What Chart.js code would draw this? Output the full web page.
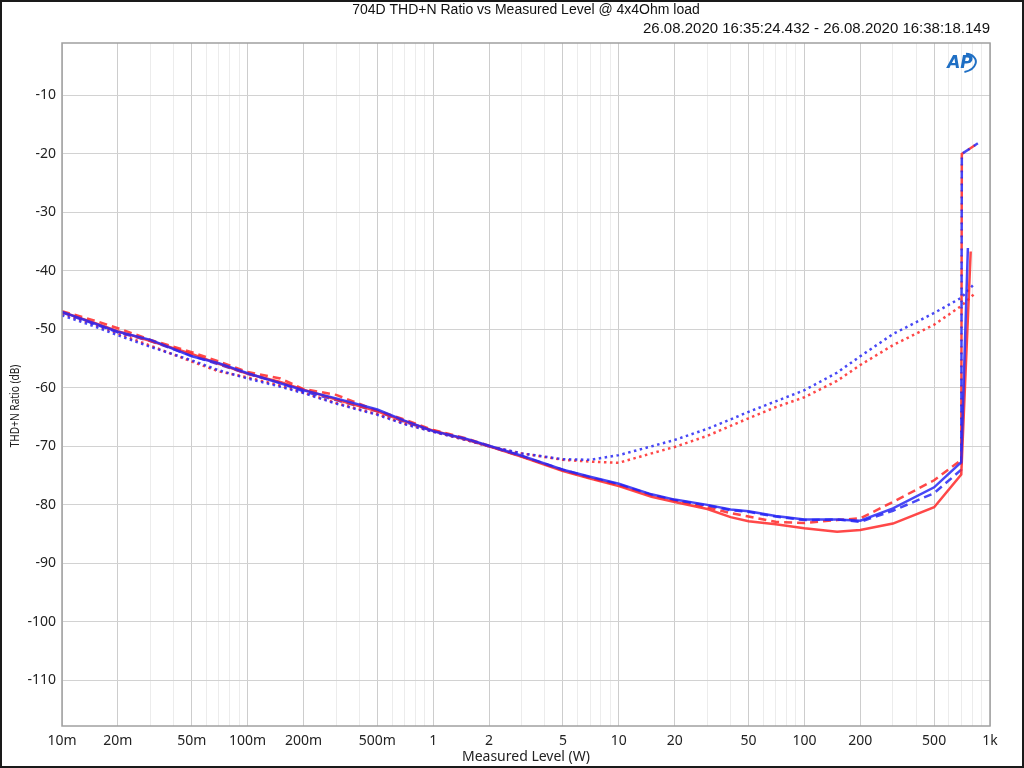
<!DOCTYPE html>
<html>
<head>
<meta charset="utf-8">
<script src="https://cdn.jsdelivr.net/npm/chart.js@4"></script>
<style>
  body { margin: 0; background: #fff; }
  canvas { display: block; }
</style>
</head>
<body>
<canvas id="thdChart" width="1024" height="768"></canvas>
<script>
//my data
const chartTitle = '704D THD+N Ratio vs Measured Level @ 4x4Ohm load'
const chartSubtitle = '26.08.2020 16:35:24.432 - 26.08.2020 16:38:18.149'
const yAxisTitle = 'THD+N Ratio (dB)'
const xAxisTitle = 'Measured Level (W)'

// measured level (W), shared by all six traces
const levels = [0.01, 0.015, 0.02, 0.03, 0.05, 0.07, 0.1, 0.15, 0.2, 0.3, 0.5, 0.7, 1, 1.5, 2, 3, 5, 7, 10, 15, 20, 30, 40, 50, 70, 100, 150, 200, 300, 500, 700]

// THD+N ratio (dB)
const blueSolid = [-47.0, -49.0, -50.4, -51.8, -54.6, -55.8, -57.5, -59.2, -60.4, -61.8, -63.7, -65.6, -67.4, -68.7, -69.9, -71.6, -74.0, -75.2, -76.4, -78.2, -79.1, -80.0, -80.8, -81.1, -81.9, -82.5, -82.5, -82.7, -80.6, -77.0, -72.7]
const redSolid = [-47.0, -48.9, -50.3, -52.0, -54.2, -55.9, -57.6, -59.0, -60.3, -62.0, -64.0, -65.7, -67.3, -68.8, -70.0, -71.8, -74.2, -75.5, -76.8, -78.6, -79.5, -80.7, -82.1, -82.8, -83.3, -84.0, -84.6, -84.3, -83.2, -80.4, -74.8]
const blueDashed = [-47.1, -49.1, -50.5, -52.0, -54.5, -56.0, -57.6, -59.1, -60.6, -62.1, -64.0, -65.8, -67.4, -68.8, -70.0, -71.7, -74.0, -75.3, -76.5, -78.3, -79.2, -80.1, -80.9, -81.2, -82.0, -82.6, -82.5, -82.9, -81.0, -78.0, -74.0]
const redDashed = [-46.9, -48.5, -49.8, -51.8, -53.9, -55.5, -57.3, -58.4, -60.2, -61.2, -63.9, -65.4, -67.2, -68.6, -69.9, -71.7, -74.1, -75.4, -76.6, -78.3, -79.2, -80.4, -81.4, -82.0, -82.9, -83.1, -82.6, -82.3, -79.5, -75.8, -72.3]
const blueDotted = [-47.6, -49.5, -51.0, -53.0, -55.3, -57.0, -58.4, -59.8, -60.9, -62.7, -64.6, -66.2, -67.5, -68.9, -70.0, -71.2, -72.2, -72.3, -71.5, -70.0, -68.9, -67.0, -65.4, -64.1, -62.3, -60.4, -57.4, -54.6, -50.8, -47.2, -44.6]
const redDotted = [-47.3, -49.2, -50.7, -52.8, -55.5, -57.2, -58.2, -59.6, -60.8, -62.6, -64.5, -66.1, -67.5, -68.9, -70.0, -71.2, -72.3, -72.6, -72.8, -71.2, -70.1, -68.2, -66.5, -65.2, -63.3, -61.6, -58.8, -56.1, -52.7, -49.2, -46.0]

// clipping tails at the top end of each sweep
const blueSolidTailX = [760]
const blueSolidTailY = [-36.1]
const redSolidTailX = [787]
const redSolidTailY = [-36.7]
const dashedTailX = [705, 860]
const dashedTailY = [-20.0, -18.2]
const blueDottedTailX = [813]
const blueDottedTailY = [-42.4]
const redDottedTailX = [832]
const redDottedTailY = [-43.8]

// ticks
const xLabelValues = [0.01, 0.02, 0.05, 0.1, 0.2, 0.5, 1, 2, 5, 10, 20, 50, 100, 200, 500, 1000]
const xLabelTexts = ['10m', '20m', '50m', '100m', '200m', '500m', '1', '2', '5', '10', '20', '50', '100', '200', '500', '1k']
const yTickValues = [-110, -100, -90, -80, -70, -60, -50, -40, -30, -20, -10]

const BLUE = 'rgba(40, 40, 245, 0.85)'
const RED = 'rgba(255, 40, 40, 0.85)'

/////////////////////////////////////////////////////////////
//helpers
/////////////////////////////////////////////////////////////
function toPoints(ys, tailX, tailY) {
    const pts = levels.map((x, i) => ({x: x, y: ys[i]}))
    tailX.forEach((x, i) => pts.push({x: x, y: tailY[i]}))
    return pts
}

function labelIndex(v) {
    return xLabelValues.findIndex(l => Math.abs(v / l - 1) < 1e-6)
}

// all 1..9 x 10^n positions for the log grid
const xGridValues = []
for (let e = -2; e <= 2; e++) {
    for (let m = 1; m <= 9; m++) {
        xGridValues.push(m * Math.pow(10, e))
    }
}
xGridValues.push(1000)

function trace(ys, tailX, tailY, color, dash) {
    return {
        data: toPoints(ys, tailX, tailY),
        borderColor: color,
        borderWidth: 2.5,
        borderDash: dash,
        pointRadius: 0,
        fill: false,
        tension: 0,
    }
}

/////////////////////////////////////////////////////////////
//frame, header texts and logo
/////////////////////////////////////////////////////////////
const decor = {
    id: 'decor',
    afterDraw(chart) {
        const {ctx, chartArea: a} = chart
        ctx.save()
        // plot box
        ctx.strokeStyle = '#a0a0a0'
        ctx.lineWidth = 1.5
        ctx.strokeRect(a.left, a.top, a.right - a.left, a.bottom - a.top)
        // outer frame
        ctx.strokeStyle = '#1a1a1a'
        ctx.lineWidth = 2
        ctx.strokeRect(1, 1, chart.width - 2, chart.height - 2)
        // header
        ctx.fillStyle = '#111'
        ctx.textBaseline = 'middle'
        ctx.font = '14px "Liberation Sans", Arial, sans-serif'
        ctx.textAlign = 'center'
        ctx.fillText(chartTitle, (a.left + a.right) / 2, 10)
        ctx.font = '15px "Liberation Sans", Arial, sans-serif'
        ctx.textAlign = 'right'
        ctx.fillText(chartSubtitle, a.right, 29)
        // y axis title, a bit condensed like the original
        ctx.save()
        ctx.translate(15, 406)
        ctx.rotate(-Math.PI / 2)
        ctx.scale(0.78, 1)
        ctx.textAlign = 'center'
        ctx.fillStyle = '#222'
        ctx.font = '13px "Noto Sans", sans-serif'
        ctx.fillText(yAxisTitle, 0, 0)
        ctx.restore()
        // AP logo
        ctx.fillStyle = '#1f6fc4'
        ctx.font = 'italic bold 17px "DejaVu Sans", sans-serif'
        ctx.textAlign = 'center'
        ctx.fillText('AP', 960, 64)
        ctx.strokeStyle = '#1f6fc4'
        ctx.lineWidth = 2
        ctx.beginPath()
        ctx.ellipse(963, 63, 13, 9, -0.2, -1.2, 1.6)
        ctx.stroke()
        ctx.restore()
    }
}

/////////////////////////////////////////////////////////////
//Chart
/////////////////////////////////////////////////////////////
const config = {
    type: 'line',
    data: {
        datasets: [
            trace(blueSolid, blueSolidTailX, blueSolidTailY, BLUE, []),
            trace(redSolid, redSolidTailX, redSolidTailY, RED, []),
            trace(blueDashed, dashedTailX, dashedTailY, BLUE, [8, 5]),
            trace(redDashed, dashedTailX, dashedTailY, RED, [8, 5]),
            trace(blueDotted, blueDottedTailX, blueDottedTailY, BLUE, [2.5, 3.5]),
            trace(redDotted, redDottedTailX, redDottedTailY, RED, [2.5, 3.5]),
        ]
    },
    plugins: [decor],
    options: {
        responsive: false,
        animation: false,
        devicePixelRatio: 1,
        layout: {
            padding: {top: 43, left: 0, right: 34, bottom: 0}
        },
        plugins: {
            legend: {display: false},
            tooltip: {enabled: false},
        },
        scales: {
            x: {
                type: 'logarithmic',
                min: 0.01,
                max: 1000,
                afterBuildTicks: axis => {
                    axis.ticks = xGridValues.map(v => ({value: v}))
                },
                afterFit: axis => { axis.height = 42 },
                border: {display: false},
                grid: {
                    drawTicks: false,
                    lineWidth: 1,
                    color: c => labelIndex(c.tick.value) >= 0 ? '#cdcdcd' : '#ececec',
                },
                ticks: {
                    autoSkip: false,
                    maxRotation: 0,
                    padding: 7,
                    color: '#222',
                    font: {family: '"Noto Sans", sans-serif', size: 14},
                    callback: value => {
                        const i = labelIndex(value)
                        return i >= 0 ? xLabelTexts[i] : ''
                    }
                },
                title: {
                    display: true,
                    text: xAxisTitle,
                    color: '#222',
                    padding: {top: 0, bottom: 3},
                    font: {family: '"Noto Sans", sans-serif', size: 14},
                }
            },
            y: {
                min: -117.8,
                max: -1.05,
                afterBuildTicks: axis => {
                    axis.ticks = yTickValues.map(v => ({value: v}))
                },
                afterFit: axis => { axis.width = 62 },
                border: {display: false},
                grid: {
                    drawTicks: false,
                    color: '#d2d2d2',
                },
                ticks: {
                    padding: 6,
                    color: '#222',
                    font: {family: '"Noto Sans", sans-serif', size: 14},
                    callback: value => value.toString()
                }
            }
        }
    }
}

// render
const thdChart = new Chart(document.getElementById('thdChart'), config)
</script>
</body>
</html>
